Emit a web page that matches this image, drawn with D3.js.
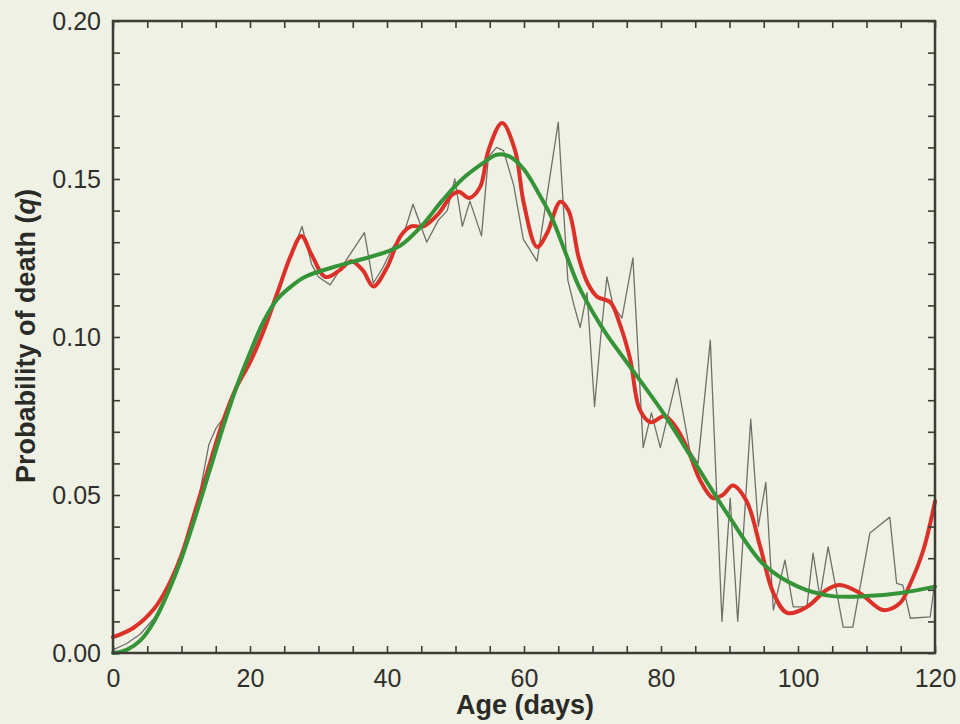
<!DOCTYPE html>
<html>
<head>
<meta charset="utf-8">
<script src="https://cdn.jsdelivr.net/npm/d3@7"></script>
<style>
  body { margin: 0; background: #eff1e5; }
  svg { display: block; }
</style>
</head>
<body>
<div id="chart"></div>
<script>
// observed daily probability of death (thin grey line)
const observed = [
  [0,0.001],[2,0.003],[4,0.006],[6,0.011],[8,0.019],[10,0.029],[12,0.043],[14,0.066],[15,0.071],
  [16,0.074],[18,0.084],[20,0.093],[22,0.103],[24,0.115],[26,0.126],[27.6,0.135],[29,0.123],
  [30,0.119],[31.7,0.1165],[34.1,0.1245],[36.7,0.133],[38,0.117],[39.4,0.122],[41,0.129],
  [42.5,0.133],[43.8,0.142],[45.8,0.130],[47.5,0.137],[48.8,0.140],[49.9,0.150],[51,0.135],
  [52.1,0.143],[53.8,0.132],[54.8,0.157],[56,0.160],[57,0.159],[58.5,0.148],[59.9,0.131],
  [61.9,0.124],[65,0.168],[66.4,0.118],[67.3,0.110],[68.2,0.103],[69.2,0.114],[70.3,0.078],
  [71.2,0.100],[72.1,0.119],[73,0.110],[74.3,0.106],[75.9,0.125],[77.4,0.065],[78.6,0.076],
  [79.9,0.065],[82.3,0.087],[84.2,0.064],[85.4,0.060],[87.2,0.099],[88.9,0.010],[90.1,0.049],
  [91.2,0.010],[93.1,0.074],[94.2,0.040],[95.3,0.054],[96.4,0.0136],[98.1,0.0294],[99.3,0.0146],
  [101.3,0.0146],[102.2,0.0316],[103.2,0.0177],[104.4,0.0336],[106.6,0.0082],[108,0.0082],
  [110.5,0.038],[113.4,0.043],[114.4,0.022],[115.3,0.0215],[116.4,0.011],[119.3,0.0114],[120,0.023]
];

// smoothed curve (red)
const smoothed = [
  [0,0.005],[3,0.008],[6,0.014],[8,0.021],[10,0.031],[12,0.045],[14,0.059],[16,0.073],[18,0.084],
  [20,0.092],[22,0.102],[24,0.114],[26,0.126],[27.5,0.132],[29,0.126],[31,0.119],[33,0.121],
  [34.8,0.124],[36.5,0.121],[38,0.116],[40,0.122],[42,0.132],[43.5,0.135],[45.3,0.135],
  [47.5,0.139],[49.5,0.145],[50.5,0.146],[52,0.144],[53.6,0.1475],[54.8,0.159],[56.8,0.1677],
  [58.7,0.159],[60,0.142],[61.9,0.1285],[63.4,0.133],[65.3,0.1428],[66.5,0.140],[68,0.125],
  [69.3,0.117],[70.7,0.1127],[72.6,0.111],[74,0.104],[75.5,0.093],[76.9,0.077],[78.5,0.073],
  [80.5,0.075],[82,0.072],[83.8,0.065],[85.7,0.0547],[87.6,0.049],[89,0.050],[90.5,0.053],
  [92.5,0.048],[94.5,0.0335],[96.4,0.019],[98.4,0.0127],[101.3,0.0146],[104.2,0.020],
  [106.1,0.0215],[109,0.019],[112.4,0.0136],[114.9,0.0158],[116.4,0.022],[118.3,0.0326],[120,0.048]
];

// fitted model (green)
const fitted = [
  [0,0.000],[2,0.001],[4,0.004],[6,0.010],[8,0.019],[10,0.030],[12,0.043],[14,0.057],[16,0.071],
  [18,0.084],[20,0.095],[22,0.105],[24,0.112],[26,0.116],[28,0.119],[32,0.122],[37,0.125],
  [40,0.127],[42,0.129],[45,0.135],[48,0.143],[51,0.150],[54,0.155],[56,0.1577],[58,0.157],
  [60,0.153],[62,0.146],[64,0.138],[66,0.127],[68,0.116],[70,0.108],[72,0.101],[75,0.092],
  [80,0.077],[85,0.060],[90,0.043],[95,0.028],[100,0.021],[105,0.018],[110,0.018],[115,0.019],
  [120,0.021]
];

const xTicks = [0, 20, 40, 60, 80, 100, 120];
const yTicks = [0, 0.05, 0.10, 0.15, 0.20];

const W = 960, H = 724;
const margin = { top: 21, right: 25, bottom: 71, left: 113 };

const svg = d3.select("#chart").append("svg")
    .attr("width", W)
    .attr("height", H);

svg.append("rect")
   .attr("width", W).attr("height", H)
   .attr("fill", "#eff1e5");

const x = d3.scaleLinear().domain([0, 120]).range([margin.left, W - margin.right]);
const y = d3.scaleLinear().domain([0, 0.20]).range([H - margin.bottom, margin.top]);

const axisColor = "#3b3d36";
const font = "'Liberation Sans', Arial, Helvetica, sans-serif";

// lines
const line = d3.line().x(d => x(d[0])).y(d => y(d[1]));

svg.append("path")
   .datum(observed)
   .attr("fill", "none")
   .attr("stroke", "#6f706a")
   .attr("stroke-width", 1.3)
   .attr("stroke-linejoin", "round")
   .attr("d", line);

svg.append("path")
   .datum(smoothed)
   .attr("fill", "none")
   .attr("stroke", "#dc3129")
   .attr("stroke-width", 4)
   .attr("stroke-linecap", "round")
   .attr("d", line.curve(d3.curveCatmullRom.alpha(0.5)));

svg.append("path")
   .datum(fitted)
   .attr("fill", "none")
   .attr("stroke", "#369438")
   .attr("stroke-width", 4)
   .attr("stroke-linecap", "round")
   .attr("d", line.curve(d3.curveCatmullRom.alpha(0.5)));

// axes: ticks inward on all four sides
const tickLen = 7;
const xMinor = d3.range(0, 121, 5);
const yMinor = d3.range(0, 0.2001, 0.01);

function styleAxis(g) {
  g.select(".domain").remove();
  g.selectAll(".tick line").attr("stroke", axisColor).attr("stroke-width", 1.6);
  g.selectAll(".tick text")
   .attr("fill", "#2f302b")
   .style("font-family", font)
   .style("font-size", "25px");
}

svg.append("g")
   .attr("transform", `translate(0,${y(0)})`)
   .call(d3.axisBottom(x).tickValues(xMinor).tickSize(-tickLen).tickFormat(d => xTicks.includes(d) ? d : ""))
   .call(styleAxis)
   .call(g => g.selectAll(".tick text").attr("dy", "0.95em").attr("y", 10));

svg.append("g")
   .attr("transform", `translate(0,${y(0.20)})`)
   .call(d3.axisTop(x).tickValues(xMinor).tickSize(-tickLen).tickFormat(""))
   .call(styleAxis);

svg.append("g")
   .attr("transform", `translate(${x(0)},0)`)
   .call(d3.axisLeft(y).tickValues(yMinor).tickSize(-tickLen)
         .tickFormat(d => yTicks.some(t => Math.abs(t - d) < 1e-6) ? d3.format(".2f")(d) : ""))
   .call(styleAxis)
   .call(g => g.selectAll(".tick text").attr("x", -12));

svg.append("g")
   .attr("transform", `translate(${x(120)},0)`)
   .call(d3.axisRight(y).tickValues(yMinor).tickSize(-tickLen).tickFormat(""))
   .call(styleAxis);

// frame
svg.append("rect")
   .attr("x", x(0)).attr("y", y(0.20))
   .attr("width", x(120) - x(0)).attr("height", y(0) - y(0.20))
   .attr("fill", "none")
   .attr("stroke", axisColor)
   .attr("stroke-width", 2.5);

// axis titles
svg.append("text")
   .attr("x", 525).attr("y", 714)
   .attr("text-anchor", "middle")
   .attr("fill", "#2a2b26")
   .style("font-family", font)
   .style("font-weight", "bold")
   .style("font-size", "27px")
   .text("Age (days)");

const yl = svg.append("text")
   .attr("transform", "translate(35,336) rotate(-90)")
   .attr("text-anchor", "middle")
   .attr("fill", "#2a2b26")
   .style("font-family", font)
   .style("font-weight", "bold")
   .style("font-size", "27px");
yl.append("tspan").text("Probability of death (");
yl.append("tspan").style("font-style", "italic").text("q");
yl.append("tspan").text(")");
</script>
</body>
</html>
